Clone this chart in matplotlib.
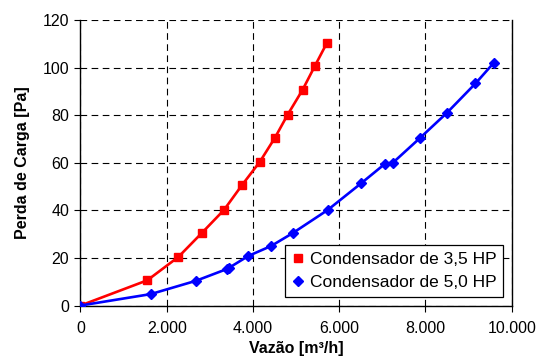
import matplotlib
matplotlib.use('Agg')
import matplotlib.pyplot as plt

plt.rcParams['font.family'] = ['Liberation Sans', 'DejaVu Sans']

# Condensador de 3,5 HP
vazao_35 = [0, 1550, 2270, 2810, 3330, 3750, 4160, 4510, 4805, 5150, 5440, 5720]
perda_35 = [0, 10.6, 20.4, 30.4, 40.2, 50.7, 60.4, 70.5, 80.2, 90.6, 100.8, 110.5]

# Condensador de 5,0 HP
vazao_50 = [0, 1630, 2680, 3390, 3450, 3890, 4420, 4920, 5730, 6505, 7065, 7245, 7880, 8500, 9160, 9590]
perda_50 = [0, 4.8, 10.4, 15.3, 15.9, 20.8, 25.0, 30.4, 40.1, 51.3, 59.6, 60.0, 70.5, 81.0, 93.3, 102.1]

xticks = [0, 2000, 4000, 6000, 8000, 10000]
xtick_labels = ['0', '2.000', '4.000', '6.000', '8.000', '10.000']
yticks = [0, 20, 40, 60, 80, 100, 120]

fig = plt.figure(figsize=(5.4, 3.62), dpi=100)
ax = fig.add_axes([0.149, 0.156, 0.7986, 0.789])

ax.plot(vazao_35, perda_35, color='#ff0000', lw=1.9, marker='s', ms=6,
        label='Condensador de 3,5 HP', zorder=3)
ax.plot(vazao_50, perda_50, color='#0000ff', lw=1.9, marker='D', ms=5,
        label='Condensador de 5,0 HP', zorder=3)

ax.set_xlim(0, 10000)
ax.set_ylim(0, 120)
ax.set_xticks(xticks)
ax.set_xticklabels(xtick_labels)
ax.set_yticks(yticks)
ax.tick_params(labelsize=11.5, direction='out', length=4, width=0.8, pad=4)
ax.tick_params(axis='x', pad=7)
ax.grid(True, color='black', ls=(0, (6, 4)), lw=0.8)
ax.set_axisbelow(True)
ax.spines['top'].set_visible(False)
for s in ['left', 'bottom', 'right']:
    ax.spines[s].set_linewidth(1.0)

ax.set_xlabel('Vazão [m³/h]', fontsize=11.5, fontweight='bold', labelpad=4)
ax.set_ylabel('Perda de Carga [Pa]', fontsize=11.5, fontweight='bold', labelpad=9)

leg = ax.legend(loc='lower right', bbox_to_anchor=(0.98, 0.031), fontsize=12.5,
                fancybox=False, framealpha=1, edgecolor='black',
                handlelength=0.7, handletextpad=0.3, borderpad=0.4,
                labelspacing=0.45, borderaxespad=0)
leg.get_frame().set_linewidth(0.9)
for h in leg.get_lines():
    h.set_linestyle('none')

fig.savefig('out.png', dpi=100)
